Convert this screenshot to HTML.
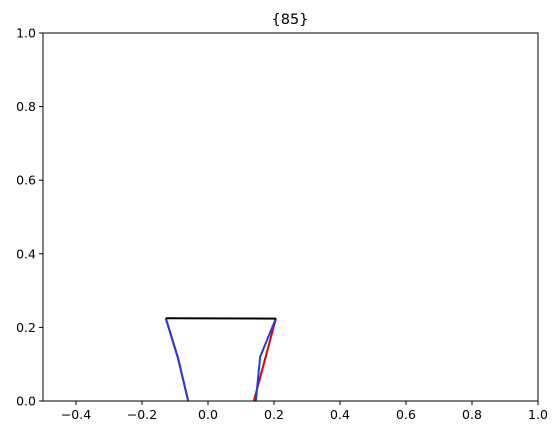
<!DOCTYPE html>
<html><head><meta charset="utf-8"><style>
body{margin:0;background:#fff;font-family:"DejaVu Sans","Liberation Sans",sans-serif;}
svg text{font-family:"DejaVu Sans","Liberation Sans",sans-serif;font-size:12.5px;fill:#000}
</style></head><body>
<svg id="chart" width="558" height="435">
<defs><clipPath id="clip"><rect x="43" y="33" width="495" height="368"/></clipPath></defs>
<rect x="0" y="0" width="558" height="435" fill="#fff"/>
<text x="290" y="24" text-anchor="middle" style="font-size:14.5px">{85}</text>
<g id="ticks"></g>
<g id="series" clip-path="url(#clip)"></g>
<rect x="43" y="33" width="495" height="368" fill="none" stroke="#000" stroke-width="1"/>
</svg>
<script>
const xTicks=[-0.4,-0.2,0.0,0.2,0.4,0.6,0.8,1.0];
const yTicks=[0.0,0.2,0.4,0.6,0.8,1.0];
const redX=[-0.128,-0.091,-0.06,null,0.139,0.206];
const redY=[0.225,0.117,0.0,null,0.0,0.225];
const blueX=[-0.128,-0.091,-0.06,null,0.145,0.158,0.206];
const blueY=[0.225,0.117,0.0,null,0.0,0.12,0.225];
const blackX=[-0.128,0.206];
const blackY=[0.225,0.224];
const X=v=>43+(v+0.5)/1.5*495;
const Y=v=>401-v*368;
const ns="http://www.w3.org/2000/svg";
const tg=document.getElementById('ticks');
xTicks.forEach(t=>{
 const l=document.createElementNS(ns,'line');
 l.setAttribute('x1',X(t));l.setAttribute('x2',X(t));l.setAttribute('y1',401);l.setAttribute('y2',405);l.setAttribute('stroke','#000');
 
 
 tg.appendChild(l);
 const tx=document.createElementNS(ns,'text');
 tx.setAttribute('x',X(t));tx.setAttribute('y',419);tx.setAttribute('text-anchor','middle');
 tx.textContent=(t<0?'\u2212':'')+Math.abs(t).toFixed(1);
 
 
 tg.appendChild(tx);
});
yTicks.forEach(t=>{
 const l=document.createElementNS(ns,'line');
 l.setAttribute('x1',39);l.setAttribute('x2',43);l.setAttribute('y1',Y(t));l.setAttribute('y2',Y(t));l.setAttribute('stroke','#000');
 
 
 tg.appendChild(l);
 const tx=document.createElementNS(ns,'text');
 tx.setAttribute('x',36);tx.setAttribute('y',Y(t)+4.5);tx.setAttribute('text-anchor','end');
 tx.textContent=t.toFixed(1);
 
 
 tg.appendChild(tx);
});
const sg=document.getElementById('series');
function path(xs,ys){let d='',m=true;xs.forEach((x,i)=>{if(x===null){m=true;return;}d+=(m?'M':'L')+X(x)+' '+Y(ys[i])+' ';m=false;});return d;}
function draw(xs,ys,c,name){
 const p=document.createElementNS(ns,'path');
 p.setAttribute('d',path(xs,ys));p.setAttribute('fill','none');p.setAttribute('stroke',c);p.setAttribute('stroke-width',2);
 
 
 sg.appendChild(p);
}
draw(redX,redY,'#e00000','red-series');
draw(blueX,blueY,'#1f3fd8','blue-series');
draw(blackX,blackY,'#000','black-series');
</script>
</body></html>
